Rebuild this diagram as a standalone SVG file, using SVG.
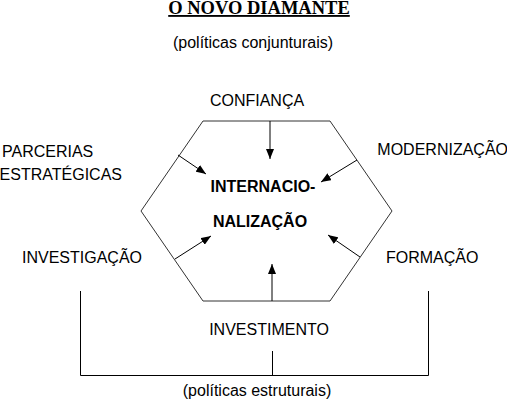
<svg xmlns="http://www.w3.org/2000/svg" width="507" height="403" viewBox="0 0 507 403">
<style>
.lbl{font-family:"Liberation Sans",Arial,sans-serif;font-size:16px;fill:#000}
.ctr{font-family:"Liberation Sans",Arial,sans-serif;font-size:16px;font-weight:bold;fill:#000}
.ttl{font-family:"Liberation Serif","Times New Roman",serif;font-size:18.5px;font-weight:bold;text-decoration:underline;fill:#000}
.ln{stroke:#000;stroke-width:1;fill:none}
.hex{stroke:#333;stroke-width:1;fill:#fff}
</style>
<defs>
<marker id="ah" markerWidth="10" markerHeight="8" refX="10" refY="4" orient="auto" markerUnits="userSpaceOnUse">
<path d="M0,0 L10,4 L0,8 Z" fill="#000"/>
</marker>
</defs>
<rect width="507" height="403" fill="#fff"/>
<g id="title">
<text class="ttl" x="259" y="14" text-anchor="middle">O NOVO DIAMANTE</text>
<text class="lbl" x="253" y="48" text-anchor="middle">(políticas conjunturais)</text>
</g>
<g id="hexagon">
<polygon class="hex" points="203,121 330,121 392,211 330,301 203,301 141,211"/>
<text class="ctr" x="263" y="192" text-anchor="middle">INTERNACIO-</text>
<text class="ctr" x="260" y="227" text-anchor="middle">NALIZAÇÃO</text>
</g>
<g id="confianca"><text class="lbl" x="257" y="106" text-anchor="middle">CONFIANÇA</text></g>
<g id="parcerias">
<text class="lbl" x="2" y="157">PARCERIAS</text>
<text class="lbl" x="122" y="180" text-anchor="end">ESTRATÉGICAS</text>
</g>
<g id="modernizacao"><text class="lbl" x="508" y="155" text-anchor="end">MODERNIZAÇÃO</text></g>
<g id="investigacao"><text class="lbl" x="142" y="263" text-anchor="end">INVESTIGAÇÃO</text></g>
<g id="formacao"><text class="lbl" x="386" y="263">FORMAÇÃO</text></g>
<g id="investimento"><text class="lbl" x="269" y="335" text-anchor="middle">INVESTIMENTO</text></g>
<g id="estruturais"><text class="lbl" x="257" y="396" text-anchor="middle">(políticas estruturais)</text></g>
<g id="connectors">
<line class="ln" x1="270" y1="121" x2="270" y2="159" marker-end="url(#ah)"/>
<line class="ln" x1="178" y1="155" x2="206" y2="174" marker-end="url(#ah)"/>
<line class="ln" x1="357" y1="160" x2="321" y2="182" marker-end="url(#ah)"/>
<line class="ln" x1="175" y1="259" x2="211" y2="236" marker-end="url(#ah)"/>
<line class="ln" x1="360" y1="257" x2="328" y2="235" marker-end="url(#ah)"/>
<line class="ln" x1="272" y1="301" x2="272" y2="264" marker-end="url(#ah)"/>
<polyline class="ln" points="80.5,291 80.5,375.5 428.5,375.5 428.5,291"/>
<line class="ln" x1="272.5" y1="351" x2="272.5" y2="375.5"/>
</g>
</svg>
